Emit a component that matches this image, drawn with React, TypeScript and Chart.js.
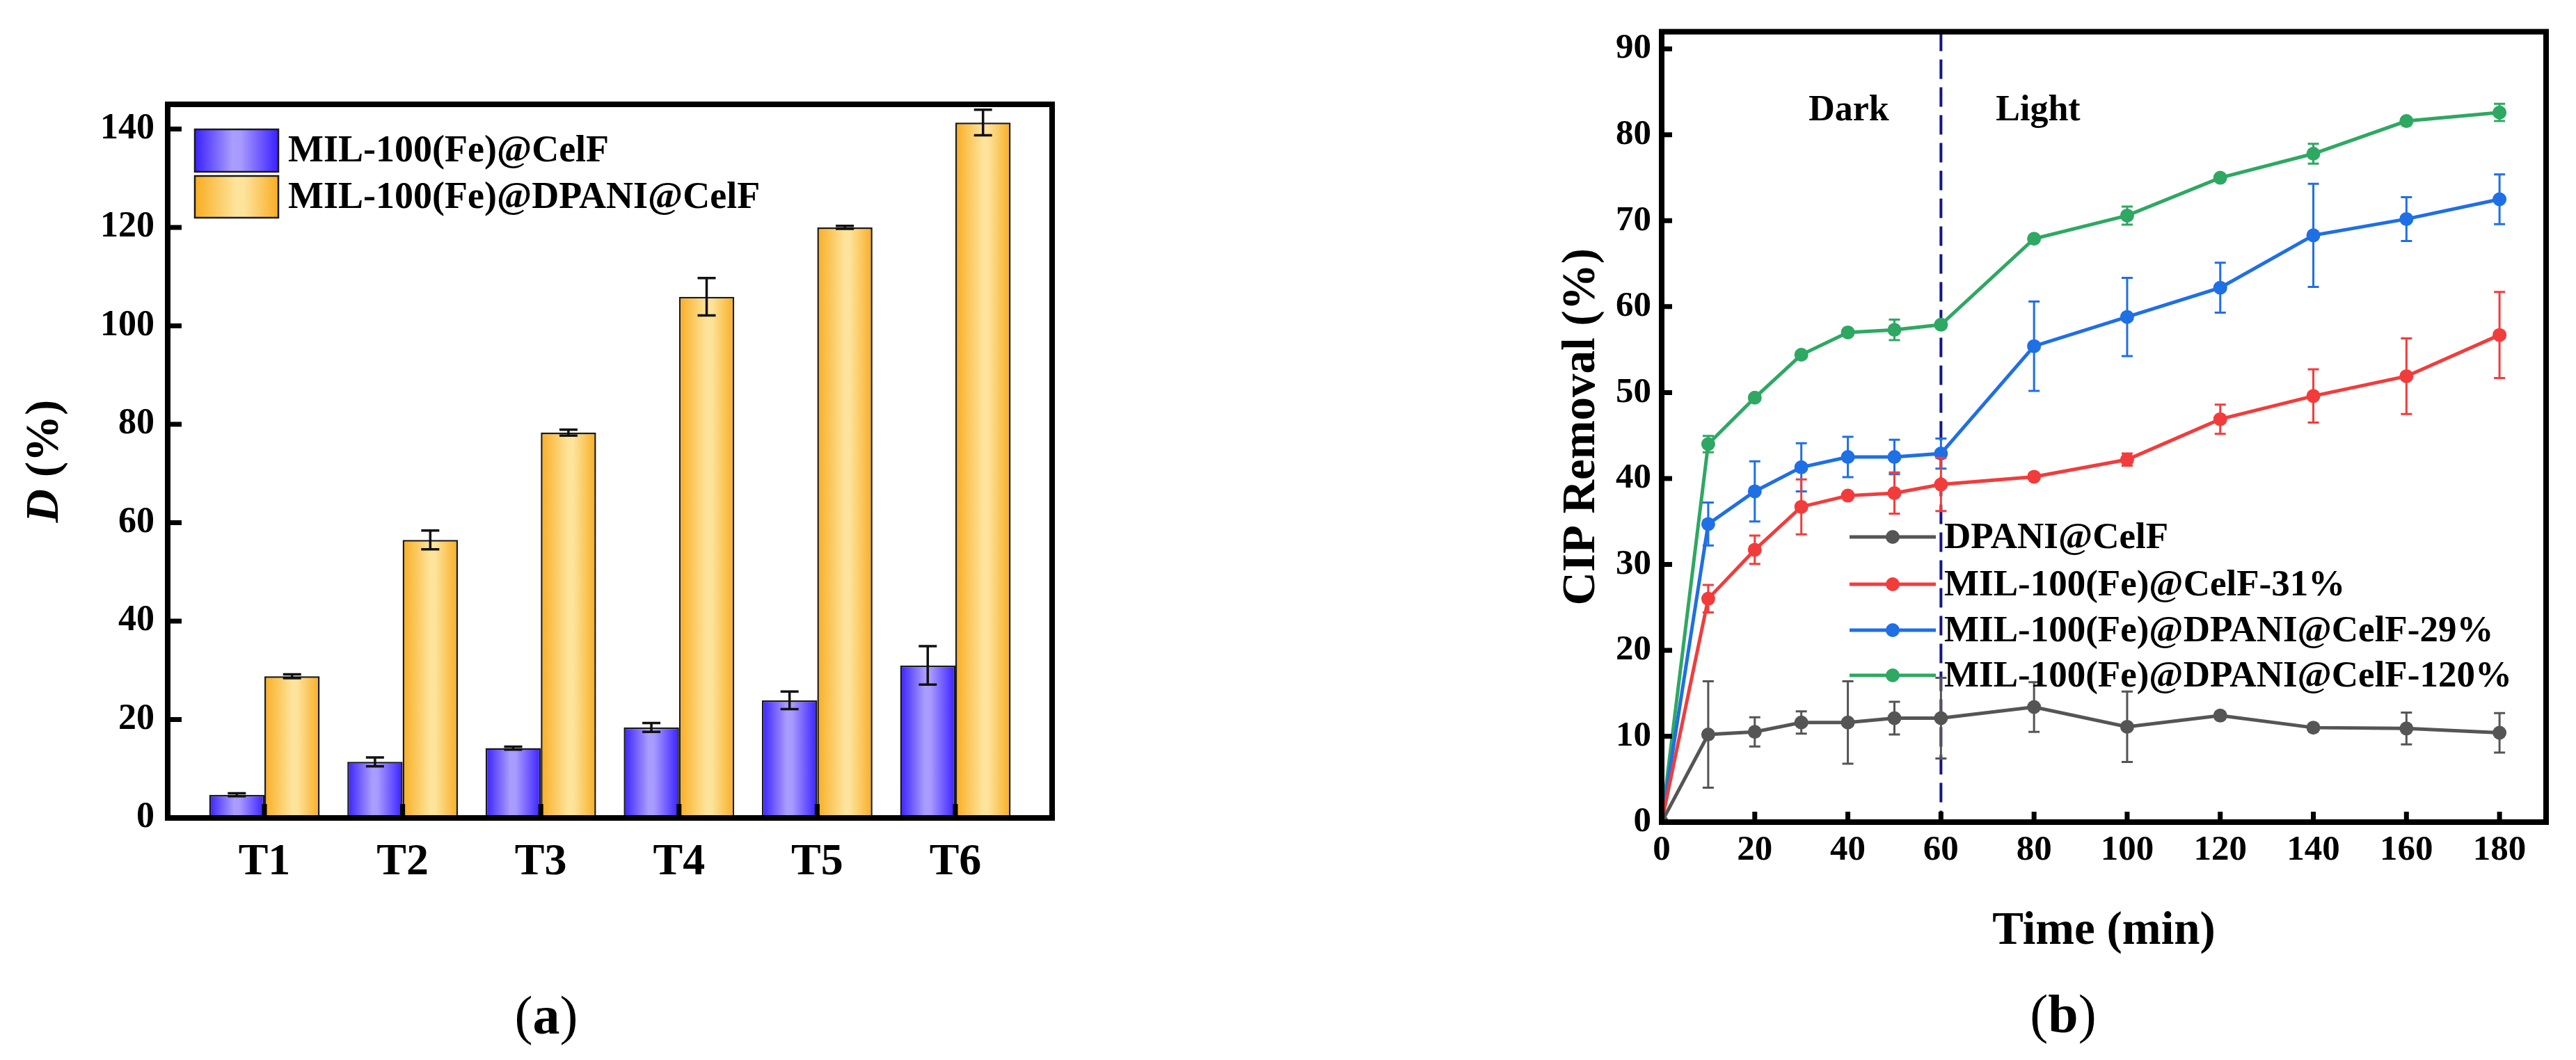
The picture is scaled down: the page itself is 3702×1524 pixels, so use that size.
import React, { useEffect, useRef } from "react";
import { Chart, registerables } from "chart.js";

Chart.register(...registerables);

const FONT = '"Liberation Serif", "Times New Roman", serif';

// ---------- panel (a): bar chart data ----------
const BAR_CATEGORIES = ["T1", "T2", "T3", "T4", "T5", "T6"];
const BAR_SERIES = ["MIL-100(Fe)@CelF", "MIL-100(Fe)@DPANI@CelF"];
const BAR_CELF = [4.7, 11.4, 14.2, 18.4, 23.9, 31.0];
const BAR_CELF_ERR = [0.3, 0.9, 0.3, 0.9, 1.8, 3.9];
const BAR_DPANI = [28.8, 56.5, 78.3, 105.9, 120.0, 141.3];
const BAR_DPANI_ERR = [0.4, 1.9, 0.6, 3.8, 0.3, 2.6];
const BAR_Y_TICKS = [0, 20, 40, 60, 80, 100, 120, 140];

// ---------- panel (b): line chart data ----------
const TIME = [0, 10, 20, 30, 40, 50, 60, 80, 100, 120, 140, 160, 180];
const LINE_SERIES = [
  "DPANI@CelF",
  "MIL-100(Fe)@CelF-31%",
  "MIL-100(Fe)@DPANI@CelF-29%",
  "MIL-100(Fe)@DPANI@CelF-120%",
];
const DPANI_CELF = [0, 10.2, 10.5, 11.6, 11.6, 12.1, 12.1, 13.4, 11.1, 12.4, 11.0, 10.9, 10.4];
const DPANI_CELF_ERR = [0, 6.2, 1.7, 1.3, 4.8, 1.9, 4.7, 2.9, 4.1, 0.4, 0.3, 1.85, 2.3];
const MIL_31 = [0, 26.0, 31.7, 36.7, 38.0, 38.3, 39.3, 40.2, 42.2, 46.9, 49.6, 51.9, 56.7];
const MIL_31_ERR = [0, 1.6, 1.65, 3.2, 0.3, 2.4, 3.1, 0.3, 0.7, 1.7, 3.1, 4.4, 5.0];
const MIL_29 = [0, 34.7, 38.5, 41.3, 42.5, 42.5, 42.9, 55.4, 58.8, 62.2, 68.3, 70.2, 72.5];
const MIL_29_ERR = [0, 2.5, 3.5, 2.8, 2.35, 2.0, 1.75, 5.2, 4.55, 2.9, 6.0, 2.55, 2.9];
const MIL_120 = [0, 44.0, 49.4, 54.4, 57.0, 57.3, 57.9, 67.9, 70.6, 75.0, 77.8, 81.6, 82.6];
const MIL_120_ERR = [0, 0.95, 0.3, 0.3, 0.3, 1.2, 0.3, 0.3, 1.05, 0.3, 1.15, 0.3, 1.0];
const X_TICKS = [0, 20, 40, 60, 80, 100, 120, 140, 160, 180];
const Y_TICKS = [0, 10, 20, 30, 40, 50, 60, 70, 80, 90];
const PHASE_SWITCH = 60;
const PHASE_LABELS = ["Dark", "Light"];

const LINE_VALUES = [DPANI_CELF, MIL_31, MIL_29, MIL_120];
const LINE_ERRORS = [DPANI_CELF_ERR, MIL_31_ERR, MIL_29_ERR, MIL_120_ERR];
const LINE_COLORS = ["#555555", "#f23c3c", "#1f6fe5", "#2ea862"];

const BLUE_STOPS: [number, string][] = [
  [0, "#3a20ff"],
  [0.45, "#aa9dff"],
  [0.55, "#a89aff"],
  [1, "#3a20ff"],
];
const ORANGE_STOPS: [number, string][] = [
  [0, "#f9ad22"],
  [0.5, "#fde49c"],
  [0.6, "#fde29a"],
  [1, "#f9ad22"],
];

function makeGradient(ctx: CanvasRenderingContext2D, left: number, width: number, stops: [number, string][]) {
  const g = ctx.createLinearGradient(left, 0, left + width, 0);
  stops.forEach(([o, c]) => g.addColorStop(o, c));
  return g;
}

function barFill(stops: [number, string][]) {
  return (c: any) => {
    const chart = c.chart;
    const xs = chart.scales && chart.scales.x;
    if (!xs || c.type !== "data") return stops[1][1];
    const center = xs.getPixelForValue(c.dataIndex);
    const spacing = xs.getPixelForValue(1) - xs.getPixelForValue(0);
    const w = spacing * 0.4;
    const left = c.datasetIndex === 0 ? center - w : center;
    if (!Number.isFinite(left) || !Number.isFinite(w) || w <= 0) return stops[1][1];
    return makeGradient(chart.ctx, left, w, stops);
  };
}

const barDecor = {
  id: "barDecor",
  afterDatasetsDraw(chart: any) {
    const ctx = chart.ctx;
    const ys = chart.scales.y;
    const vals = [BAR_CELF, BAR_DPANI];
    const errs = [BAR_CELF_ERR, BAR_DPANI_ERR];
    ctx.save();
    ctx.strokeStyle = "#111";
    ctx.lineWidth = 3.5;
    for (let d = 0; d < 2; d++) {
      const meta = chart.getDatasetMeta(d);
      meta.data.forEach((el: any, i: number) => {
        const x = el.x;
        const yt = ys.getPixelForValue(vals[d][i] + errs[d][i]);
        const yb = ys.getPixelForValue(vals[d][i] - errs[d][i]);
        ctx.beginPath();
        ctx.moveTo(x, yt);
        ctx.lineTo(x, yb);
        ctx.moveTo(x - 13, yt);
        ctx.lineTo(x + 13, yt);
        ctx.moveTo(x - 13, yb);
        ctx.lineTo(x + 13, yb);
        ctx.stroke();
      });
    }
    ctx.restore();
  },
  afterDraw(chart: any) {
    const ctx = chart.ctx;
    const ca = chart.chartArea;
    const xs = chart.scales.x;
    const ys = chart.scales.y;
    ctx.save();
    ctx.strokeStyle = "#000";
    ctx.lineWidth = 8;
    ctx.strokeRect(ca.left, ca.top, ca.right - ca.left, ca.bottom - ca.top);
    ctx.lineWidth = 7;
    ctx.beginPath();
    BAR_Y_TICKS.forEach((v) => {
      const py = ys.getPixelForValue(v);
      ctx.moveTo(ca.left, py);
      ctx.lineTo(ca.left + 20, py);
    });
    BAR_CATEGORIES.forEach((_, i) => {
      const px = xs.getPixelForValue(i);
      ctx.moveTo(px, ca.bottom);
      ctx.lineTo(px, ca.bottom - 20);
    });
    ctx.stroke();

    const boxL = 280, boxW = 120;
    const rows = [
      { top: 186, h: 61, stops: BLUE_STOPS },
      { top: 253, h: 60, stops: ORANGE_STOPS },
    ];
    ctx.font = `bold 54px ${FONT}`;
    ctx.textBaseline = "middle";
    ctx.textAlign = "left";
    rows.forEach((r, k) => {
      ctx.fillStyle = makeGradient(ctx, boxL, boxW, r.stops);
      ctx.fillRect(boxL, r.top, boxW, r.h);
      ctx.lineWidth = 2.5;
      ctx.strokeStyle = "#1a1a1a";
      ctx.strokeRect(boxL, r.top, boxW, r.h);
      ctx.fillStyle = "#000";
      ctx.fillText(BAR_SERIES[k], 414, r.top + r.h / 2 + 2);
    });

    ctx.translate(66, (ca.top + ca.bottom) / 2);
    ctx.rotate(-Math.PI / 2);
    const f1 = `italic bold 67px ${FONT}`;
    const f2 = `bold 67px ${FONT}`;
    ctx.font = f1;
    const w1 = ctx.measureText("D").width;
    ctx.font = f2;
    const w2 = ctx.measureText(" (%)").width;
    const start = -(w1 + w2) / 2;
    ctx.fillStyle = "#000";
    ctx.font = f1;
    ctx.fillText("D", start, 0);
    ctx.font = f2;
    ctx.fillText(" (%)", start + w1, 0);
    ctx.restore();
  },
};

const lineDecor = {
  id: "lineDecor",
  beforeDatasetsDraw(chart: any) {
    const ctx = chart.ctx;
    const ca = chart.chartArea;
    const px = chart.scales.x.getPixelForValue(PHASE_SWITCH);
    ctx.save();
    ctx.strokeStyle = "#15158a";
    ctx.lineWidth = 4;
    ctx.setLineDash([28, 12]);
    ctx.beginPath();
    ctx.moveTo(px, ca.top);
    ctx.lineTo(px, ca.bottom);
    ctx.stroke();
    ctx.restore();
  },
  afterDatasetDraw(chart: any, args: any) {
    const d = args.index;
    const ctx = chart.ctx;
    const xs = chart.scales.x;
    const ys = chart.scales.y;
    ctx.save();
    ctx.strokeStyle = LINE_COLORS[d];
    ctx.lineWidth = 3;
    ctx.beginPath();
    TIME.forEach((t, i) => {
      const e = LINE_ERRORS[d][i];
      if (!e) return;
      const x = xs.getPixelForValue(t);
      const yt = ys.getPixelForValue(LINE_VALUES[d][i] + e);
      const yb = ys.getPixelForValue(LINE_VALUES[d][i] - e);
      ctx.moveTo(x, yt);
      ctx.lineTo(x, yb);
      ctx.moveTo(x - 8, yt);
      ctx.lineTo(x + 8, yt);
      ctx.moveTo(x - 8, yb);
      ctx.lineTo(x + 8, yb);
    });
    ctx.stroke();
    ctx.restore();
  },
  afterDraw(chart: any) {
    const ctx = chart.ctx;
    const ca = chart.chartArea;
    const xs = chart.scales.x;
    const ys = chart.scales.y;
    ctx.save();
    ctx.strokeStyle = "#000";
    ctx.lineWidth = 8;
    ctx.strokeRect(ca.left, ca.top, ca.right - ca.left, ca.bottom - ca.top);
    ctx.lineWidth = 7;
    ctx.beginPath();
    Y_TICKS.forEach((v) => {
      const py = ys.getPixelForValue(v);
      ctx.moveTo(ca.left, py);
      ctx.lineTo(ca.left + 15, py);
    });
    X_TICKS.forEach((v) => {
      const px = xs.getPixelForValue(v);
      ctx.moveTo(px, ca.bottom);
      ctx.lineTo(px, ca.bottom - 15);
    });
    ctx.stroke();

    const rowsY = [772, 840, 906, 971];
    ctx.font = `bold 53px ${FONT}`;
    ctx.textBaseline = "middle";
    ctx.textAlign = "left";
    LINE_SERIES.forEach((name, k) => {
      const y = rowsY[k];
      ctx.strokeStyle = LINE_COLORS[k];
      ctx.lineWidth = 5;
      ctx.beginPath();
      ctx.moveTo(508, y);
      ctx.lineTo(632, y);
      ctx.stroke();
      ctx.fillStyle = LINE_COLORS[k];
      ctx.beginPath();
      ctx.arc(570, y, 10, 0, Math.PI * 2);
      ctx.fill();
      ctx.fillStyle = "#000";
      ctx.fillText(name, 644, y + 2);
    });

    ctx.font = `bold 52px ${FONT}`;
    ctx.textAlign = "center";
    ctx.fillText(PHASE_LABELS[0], 507, 160);
    ctx.fillText(PHASE_LABELS[1], 779, 160);

    ctx.font = `bold 67px ${FONT}`;
    ctx.fillText("Time (min)", (ca.left + ca.right) / 2, 1340);
    ctx.translate(124, (ca.top + ca.bottom) / 2);
    ctx.rotate(-Math.PI / 2);
    ctx.fillText("CIP Removal (%)", 0, 0);
    ctx.restore();
  },
};

function useChart(ref: React.RefObject<HTMLCanvasElement>, makeConfig: () => any) {
  useEffect(() => {
    if (!ref.current) return;
    const chart = new Chart(ref.current, makeConfig());
    return () => chart.destroy();
  }, []);
}

const tickFont = (size: number) => ({ family: FONT, weight: "bold" as const, size });

function BarPanel() {
  const ref = useRef<HTMLCanvasElement>(null);
  useChart(ref, () => ({
    type: "bar",
    data: {
      datasets: [
        {
          label: BAR_SERIES[0],
          data: BAR_CELF.map((y, i) => ({ x: i, y })),
          backgroundColor: barFill(BLUE_STOPS),
          borderColor: "#1a1a1a",
          borderWidth: 2.5,
          categoryPercentage: 0.8,
          barPercentage: 1.0,
        },
        {
          label: BAR_SERIES[1],
          data: BAR_DPANI.map((y, i) => ({ x: i, y })),
          backgroundColor: barFill(ORANGE_STOPS),
          borderColor: "#1a1a1a",
          borderWidth: 2.5,
          categoryPercentage: 0.8,
          barPercentage: 1.0,
        },
      ],
    },
    options: {
      responsive: false,
      maintainAspectRatio: false,
      animation: false,
      events: [],
      layout: { padding: { top: 150, right: 88, left: 0, bottom: 0 } },
      plugins: { legend: { display: false }, tooltip: { enabled: false } },
      scales: {
        x: {
          type: "linear",
          min: -0.7,
          max: 5.7,
          offset: false,
          grid: { display: false, drawTicks: false, offset: false },
          border: { display: false },
          afterBuildTicks: (s: any) => {
            s.ticks = BAR_CATEGORIES.map((_, i) => ({ value: i }));
          },
          afterFit: (s: any) => {
            s.height = 348;
          },
          ticks: {
            callback: (v: any) => BAR_CATEGORIES[Math.round(v)],
            font: tickFont(64),
            color: "#000",
            padding: 26,
            maxRotation: 0,
            autoSkip: false,
          },
        },
        y: {
          min: 0,
          max: 145,
          grid: { display: false, drawTicks: false },
          border: { display: false },
          afterBuildTicks: (s: any) => {
            s.ticks = BAR_Y_TICKS.map((v) => ({ value: v }));
          },
          afterFit: (s: any) => {
            s.width = 241;
          },
          ticks: { font: tickFont(52), color: "#000", padding: 19 },
        },
      },
    },
    plugins: [barDecor],
  }));
  return (
    <canvas
      ref={ref}
      width={1600}
      height={1524}
      style={{ position: "absolute", left: 0, top: 0, width: 1600, height: 1524 }}
    />
  );
}

function LinePanel() {
  const ref = useRef<HTMLCanvasElement>(null);
  useChart(ref, () => ({
    type: "line",
    data: {
      datasets: LINE_SERIES.map((name, k) => ({
        label: name,
        data: TIME.map((t, i) => ({ x: t, y: LINE_VALUES[k][i] })),
        borderColor: LINE_COLORS[k],
        backgroundColor: LINE_COLORS[k],
        pointBackgroundColor: LINE_COLORS[k],
        pointBorderColor: LINE_COLORS[k],
        pointBorderWidth: 0,
        pointRadius: 10,
        borderWidth: 5,
        tension: 0,
        fill: false,
      })),
    },
    options: {
      responsive: false,
      maintainAspectRatio: false,
      animation: false,
      events: [],
      layout: { padding: { top: 42, right: 43, left: 0, bottom: 0 } },
      plugins: { legend: { display: false }, tooltip: { enabled: false } },
      scales: {
        x: {
          type: "linear",
          min: 0,
          max: 190,
          grid: { display: false, drawTicks: false },
          border: { display: false },
          afterBuildTicks: (s: any) => {
            s.ticks = X_TICKS.map((v) => ({ value: v }));
          },
          afterFit: (s: any) => {
            s.height = 342;
          },
          ticks: { font: tickFont(51), color: "#000", padding: 10, maxRotation: 0, autoSkip: false },
        },
        y: {
          type: "linear",
          min: 0,
          max: 92,
          grid: { display: false, drawTicks: false },
          border: { display: false },
          afterBuildTicks: (s: any) => {
            s.ticks = Y_TICKS.map((v) => ({ value: v }));
          },
          afterFit: (s: any) => {
            s.width = 238;
          },
          ticks: { font: tickFont(51), color: "#000", padding: 15 },
        },
      },
    },
    plugins: [lineDecor],
  }));
  return (
    <canvas
      ref={ref}
      width={1552}
      height={1524}
      style={{ position: "absolute", left: 2150, top: 0, width: 1552, height: 1524 }}
    />
  );
}

const panelLabelStyle: React.CSSProperties = {
  position: "absolute",
  transform: "translate(-50%, -50%)",
  fontFamily: FONT,
  fontSize: 78,
  lineHeight: 1,
  color: "#000",
  whiteSpace: "nowrap",
};

export default function App() {
  return (
    <div
      style={{
        position: "absolute",
        left: 0,
        top: 0,
        width: 3702,
        height: 1524,
        background: "#ffffff",
        overflow: "hidden",
      }}
    >
      <BarPanel />
      <LinePanel />
      <div style={{ ...panelLabelStyle, left: 785, top: 1460 }}>
        (<b>a</b>)
      </div>
      <div style={{ ...panelLabelStyle, left: 2965, top: 1458 }}>
        (<b>b</b>)
      </div>
    </div>
  );
}
